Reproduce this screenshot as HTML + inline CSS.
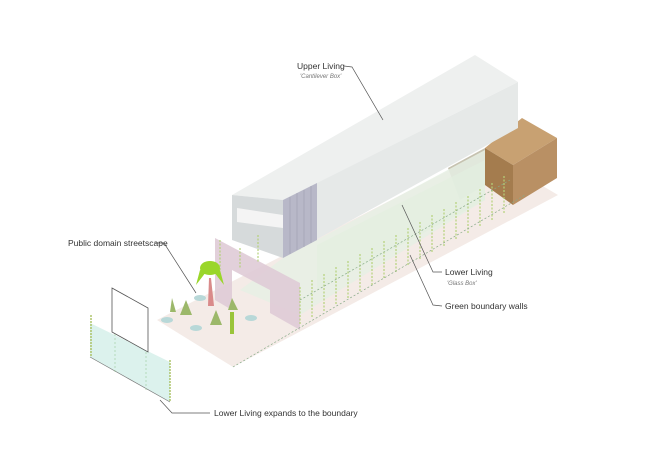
<!DOCTYPE html>
<html><head><meta charset="utf-8"><style>
html,body{margin:0;padding:0;background:#fff;}
svg{display:block;}
text{font-family:"Liberation Sans",sans-serif;font-size:8.5px;fill:#333;}
.s{font-size:6px;font-style:italic;fill:#777;}
</style></head><body>
<svg width="649" height="459" viewBox="0 0 649 459" xmlns="http://www.w3.org/2000/svg">
<!-- ground -->
<polygon points="157,320 233,367 558,195 485,152" fill="#f4ebe7"/>
<!-- shadow behind brown box -->
<polygon points="448,168 485,148 485,185 460,200" fill="#b8b39c" opacity="0.8"/>
<!-- glass box -->
<polygon points="283,258 485,150 485,200 300,315 240,290" fill="#e6f0e4" opacity="0.85"/>
<polygon points="317,245 485,160 485,200 317,290" fill="#e2efe0" opacity="0.7"/>
<!-- pink wall -->
<polygon points="215,238 300,283 300,330 270,313 270,290 232,270 232,310 215,300" fill="#dfcbd6" opacity="0.9"/>
<!-- brown box -->
<polygon points="485,148 522,118 557,138 513,165" fill="#c8a172"/>
<polygon points="485,148 513,165 513,205 485,185" fill="#a47c4e"/>
<polygon points="513,165 557,138 557,178 513,205" fill="#b99064"/>
<!-- upper box -->
<polygon points="232,195 475,55 518,82 283,200" fill="#eef0ef"/>
<polygon points="283,200 518,82 518,128 283,258" fill="#e6e9e8"/>
<polygon points="283,200 317,183 317,240 283,258" fill="#b8b8c8"/>
<g stroke="#9c9cb0" stroke-width="0.6">
<line x1="290" y1="197" x2="290" y2="254"/><line x1="297" y1="193" x2="297" y2="250"/><line x1="304" y1="190" x2="304" y2="247"/><line x1="311" y1="186" x2="311" y2="243"/>
</g>
<polygon points="232,195 283,200 283,258 232,240" fill="#d6dadb"/>
<polygon points="237,208 283,215 283,228 237,222" fill="#f4f4f4"/>
<!-- green boundary walls -->
<g stroke="#b5d17a" stroke-width="1.2" stroke-dasharray="2,1.5">
<line x1="300" y1="287" x2="300" y2="325"/><line x1="312" y1="280" x2="312" y2="318"/><line x1="324" y1="274" x2="324" y2="312"/><line x1="336" y1="267" x2="336" y2="305"/><line x1="348" y1="261" x2="348" y2="299"/><line x1="360" y1="254" x2="360" y2="292"/><line x1="372" y1="248" x2="372" y2="286"/><line x1="384" y1="241" x2="384" y2="279"/><line x1="396" y1="235" x2="396" y2="273"/><line x1="408" y1="228" x2="408" y2="266"/><line x1="420" y1="222" x2="420" y2="260"/><line x1="432" y1="215" x2="432" y2="253"/><line x1="444" y1="209" x2="444" y2="247"/><line x1="456" y1="202" x2="456" y2="240"/><line x1="468" y1="196" x2="468" y2="234"/><line x1="480" y1="189" x2="480" y2="227"/><line x1="492" y1="183" x2="492" y2="221"/><line x1="504" y1="176" x2="504" y2="214"/>
<line x1="220" y1="240" x2="220" y2="270"/><line x1="240" y1="248" x2="240" y2="268"/><line x1="258" y1="235" x2="258" y2="262"/>
</g>
<line x1="233" y1="367" x2="525" y2="195" stroke="#8a8" stroke-width="0.7" stroke-dasharray="2,2"/>
<line x1="300" y1="300" x2="510" y2="180" stroke="#8a8" stroke-width="0.7" stroke-dasharray="2,2"/>
<!-- plants -->
<polygon points="208,306 209,278 211,278 214,306" fill="#d98a8a"/>
<g fill="#9ad62a"><ellipse cx="210" cy="268" rx="10" ry="7"/><polygon points="200,270 196,285 206,272"/><polygon points="220,270 224,285 214,272"/></g>
<g fill="#b8d8d8"><ellipse cx="200" cy="298" rx="6" ry="3"/><ellipse cx="167" cy="320" rx="6" ry="3"/><ellipse cx="196" cy="328" rx="6" ry="3"/><ellipse cx="251" cy="318" rx="6" ry="3"/></g>
<g fill="#9cb86a"><polygon points="180,315 186,300 192,315"/><polygon points="210,325 216,310 222,325"/><polygon points="228,310 232,298 238,310"/><polygon points="170,312 172,298 176,312"/></g>
<rect x="230" y="312" width="4" height="22" fill="#9ac43a"/>
<!-- left panel -->
<polygon points="90,323 170,362 170,402 90,357" fill="#d3efe8" opacity="0.8"/>
<polygon points="112,288 148,308 148,352 112,332" fill="#fff" stroke="#555" stroke-width="0.8"/>
<line x1="90" y1="357" x2="170" y2="402" stroke="#777" stroke-width="0.7"/>
<g stroke="#9c9" stroke-width="0.6" stroke-dasharray="2,2"><line x1="115" y1="334" x2="115" y2="372"/><line x1="146" y1="352" x2="146" y2="390"/></g>
<g stroke="#a8c060" stroke-width="1.4" stroke-dasharray="2,1"><line x1="91" y1="315" x2="91" y2="357"/><line x1="170" y1="360" x2="170" y2="402"/></g>
<!-- leaders -->
<g fill="none" stroke="#555" stroke-width="0.7">
<polyline points="344,66 352,67 383,120"/>
<polyline points="155,243 164,243 196,293"/>
<polyline points="442,272 433,272 402,205"/>
<polyline points="442,306 433,305 410,255"/>
<polyline points="210,413 172,413 160,400"/>
</g>
<text x="297" y="69">Upper Living</text>
<text class="s" x="300" y="78">'Cantilever Box'</text>
<text x="68" y="246">Public domain streetscape</text>
<text x="445" y="275">Lower Living</text>
<text class="s" x="447" y="285">'Glass Box'</text>
<text x="445" y="309">Green boundary walls</text>
<text x="214" y="416">Lower Living expands to the boundary</text>
</svg>
</body></html>
